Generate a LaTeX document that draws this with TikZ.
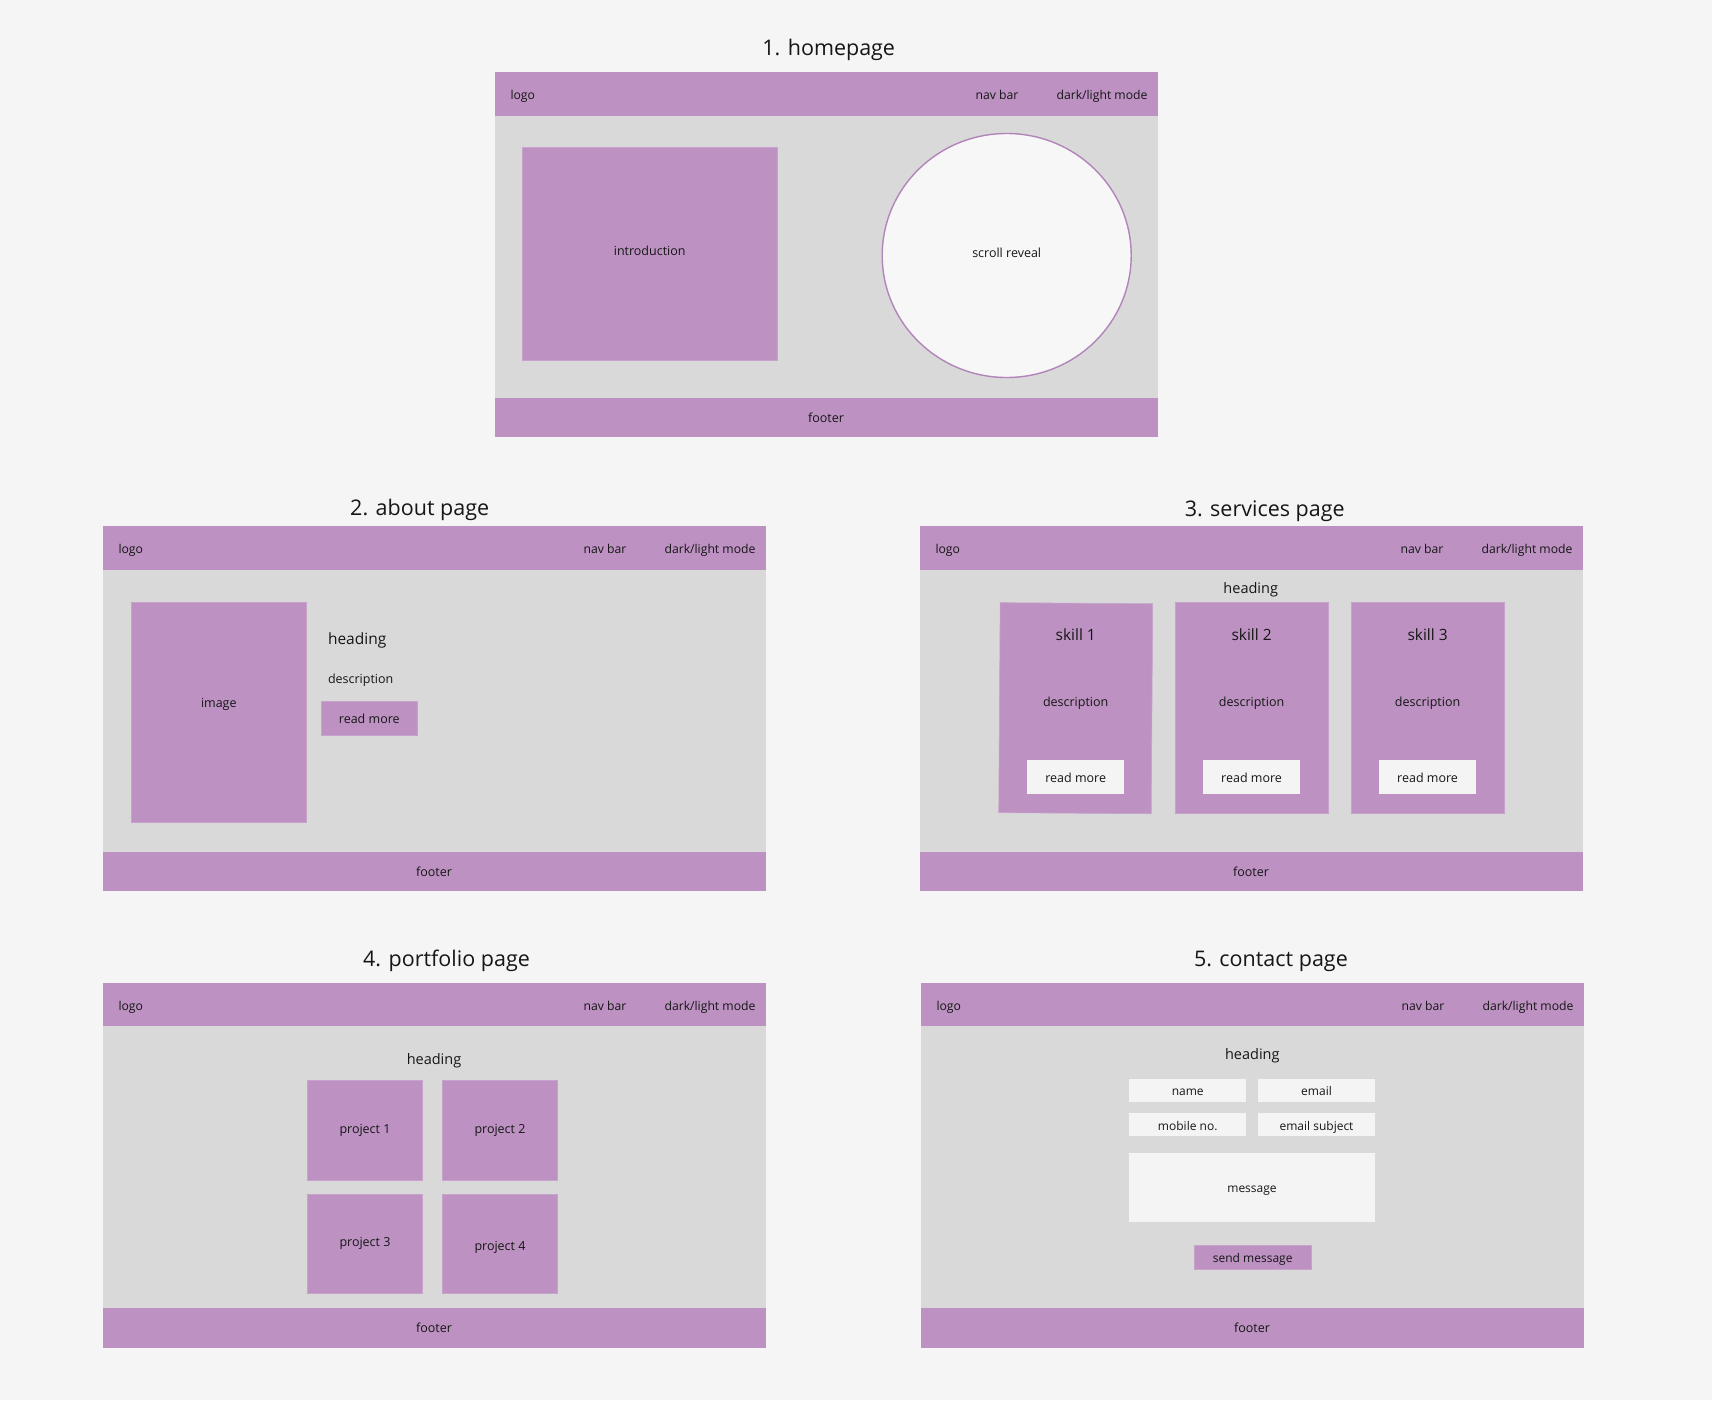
\documentclass[tikz,border=0pt]{standalone}
\usepackage{fontspec}
\setmainfont{Open Sans}
\usetikzlibrary{shapes.geometric}

\definecolor{pagebg}{HTML}{F5F5F5}
\definecolor{lilac}{HTML}{BD92C3}
\definecolor{lilacedge}{HTML}{C6A3CB}
\definecolor{panel}{HTML}{D9D9D9}
\definecolor{field}{HTML}{F4F4F4}
\definecolor{ink}{HTML}{161616}
\definecolor{ring}{HTML}{B184BA}

\tikzset{
  every node/.style={inner sep=0pt, outer sep=0pt, text=ink},
  txt/.style={anchor=mid, yshift=-2.5pt, font=\fontsize{12.5}{15}\selectfont},
  navtxt/.style={anchor=mid, yshift=-1.5pt, font=\fontsize{12.2}{15}\selectfont},
  headtxt/.style={anchor=mid, yshift=-2.5pt, font=\fontsize{14.5}{17}\selectfont},
  bigtxt/.style={anchor=mid, yshift=-2.5pt, font=\fontsize{15.5}{18}\selectfont},
  titletxt/.style={anchor=base, yshift=-1pt, font=\fontsize{21.5}{25}\selectfont},
  panelbox/.style={rectangle, fill=panel, anchor=north west,
    minimum width=663pt, minimum height=365pt},
  navstrip/.style={rectangle, fill=lilac, anchor=north west,
    minimum width=663pt, minimum height=43.5pt},
  footstrip/.style={rectangle, fill=lilac, anchor=south west,
    minimum width=663pt, minimum height=39.5pt},
  block/.style={rectangle, fill=lilac, draw=lilacedge, line width=0.6pt,
    text height=9pt, text depth=3pt, font=\fontsize{12.5}{15}\selectfont},
  % small boxes: text sits a little lower
  lowtext/.style={text height=13.5pt, text depth=3pt},
  inputbox/.style={rectangle, fill=field, lowtext,
    font=\fontsize{12}{14}\selectfont},
}

% one wireframe page: panel, nav strip with its labels, footer strip
\newcommand\wfpage[3]{%
  \node[panelbox] (#1-body) at (#2,#3) {};
  \node[navstrip] (#1-nav) at (#2,#3) {};
  \node[footstrip] (#1-foot) at (#2,{#3+365}) {};
  \node[navtxt, anchor=mid west] (#1-logo) at ({#2+16},{#3+23.5}) {logo};
  \node[navtxt] (#1-menu) at ({#2+502.5},{#3+23.5}) {nav bar};
  \node[navtxt, anchor=mid east] (#1-mode) at ({#2+653},{#3+23.5}) {dark/light mode};
  \node[txt] (#1-foottext) at ({#2+331.5},{#3+345}) {footer};
}

\begin{document}
\begin{tikzpicture}[x=1pt, y=-1pt]
  \fill[pagebg] (0,0) rectangle (1712,1400);
  \useasboundingbox (0,0) rectangle (1712,1400);

  % ---- 1. homepage ----
  \node[titletxt] (t1) at (828.7,54.5) {1. homepage};
  \wfpage{home}{494.5}{72}
  \node[block, minimum width=254.5pt, minimum height=213.4pt] (intro)
    at (649.7,254) {};
  \node[txt] (introtxt) at (649.7,250) {introduction};
  \node[ellipse, fill=pagebg!80!white, draw=ring, line width=1.4pt,
    minimum width=249pt, minimum height=244pt] (reveal)
    at (1006.7,255.5) {};
  \node[txt] (revealtxt) at (1006.7,252.7) {scroll reveal};

  % ---- 2. about page ----
  \node[titletxt] (t2) at (419.7,514.7) {2. about page};
  \wfpage{about}{102.5}{526}
  \node[block, minimum width=175pt, minimum height=220pt] (img) at (218.8,712) {};
  \node[txt] (imgtxt) at (218.8,702) {image};
  \node[bigtxt, anchor=mid west] (abouthead) at (328,639.5) {heading};
  \node[txt, anchor=mid west] (aboutdesc) at (328,678.7) {description};
  \node[block, lowtext, minimum width=96.7pt, minimum height=33.7pt] (aboutmore)
    at (369.3,718.2) {read more};

  % ---- 3. services page ----
  \node[titletxt] (t3) at (1264.7,515.7) {3. services page};
  \wfpage{serv}{919.5}{526}
  \node[headtxt] (servhead) at (1250.7,588) {heading};
  \node[block, minimum width=152.5pt, minimum height=210pt, rotate=-0.4]
    (card1) at (1075.7,708.2) {};
  \node[block, minimum width=152.9pt, minimum height=210.6pt] (card2)
    at (1251.6,708) {};
  \node[block, minimum width=152.9pt, minimum height=210.6pt] (card3)
    at (1427.6,708) {};
  \foreach \c/\x/\n in {card1/1075.7/1, card2/1251.6/2, card3/1427.6/3}{
    \node[bigtxt] (\c-title) at (\x,635.5) {skill \n};
    \node[txt] (\c-desc) at (\x,701.7) {description};
    \node[inputbox, font=\fontsize{12.5}{15}\selectfont,
      minimum width=96.7pt, minimum height=33.7pt] (\c-more)
      at (\x,776.8) {read more};
  }

  % ---- 4. portfolio page ----
  \node[titletxt] (t4) at (446.5,965) {4. portfolio page};
  \wfpage{port}{102.5}{982.5}
  \node[headtxt] (porthead) at (434,1059.5) {heading};
  \node[block, minimum width=115.4pt, minimum height=99.7pt] (proj1)
    at (365,1130.2) {project 1};
  \node[block, minimum width=115.4pt, minimum height=99.7pt] (proj2)
    at (500,1130.2) {project 2};
  \node[block, minimum width=115.4pt, minimum height=99.7pt] (proj3)
    at (365,1243.8) {project 3};
  \node[block, minimum width=115.4pt, minimum height=99.7pt] (proj4)
    at (500,1243.8) {};
  \node[txt] (proj4txt) at (500,1245) {project 4};

  % ---- 5. contact page ----
  \node[titletxt] (t5) at (1270.9,965) {5. contact page};
  \wfpage{cont}{920.5}{982.5}
  \node[headtxt] (conthead) at (1252.3,1054.5) {heading};
  \node[inputbox, minimum width=117.3pt, minimum height=23.3pt] (fname)
    at (1187.7,1090.7) {name};
  \node[inputbox, minimum width=117.3pt, minimum height=23.3pt] (femail)
    at (1316.5,1090.7) {email};
  \node[inputbox, minimum width=117.3pt, minimum height=23.3pt] (fmobile)
    at (1187.7,1124.8) {mobile no.};
  \node[inputbox, minimum width=117.3pt, minimum height=23.3pt] (fsubject)
    at (1316.5,1124.8) {email subject};
  \node[inputbox, minimum width=246pt, minimum height=69pt] (fmessage)
    at (1252,1187.5) {message};
  \node[block, lowtext, font=\fontsize{12}{14}\selectfont,
    minimum width=117.3pt, minimum height=23.7pt] (fsend)
    at (1252.7,1257.2) {send message};
\end{tikzpicture}
\end{document}
